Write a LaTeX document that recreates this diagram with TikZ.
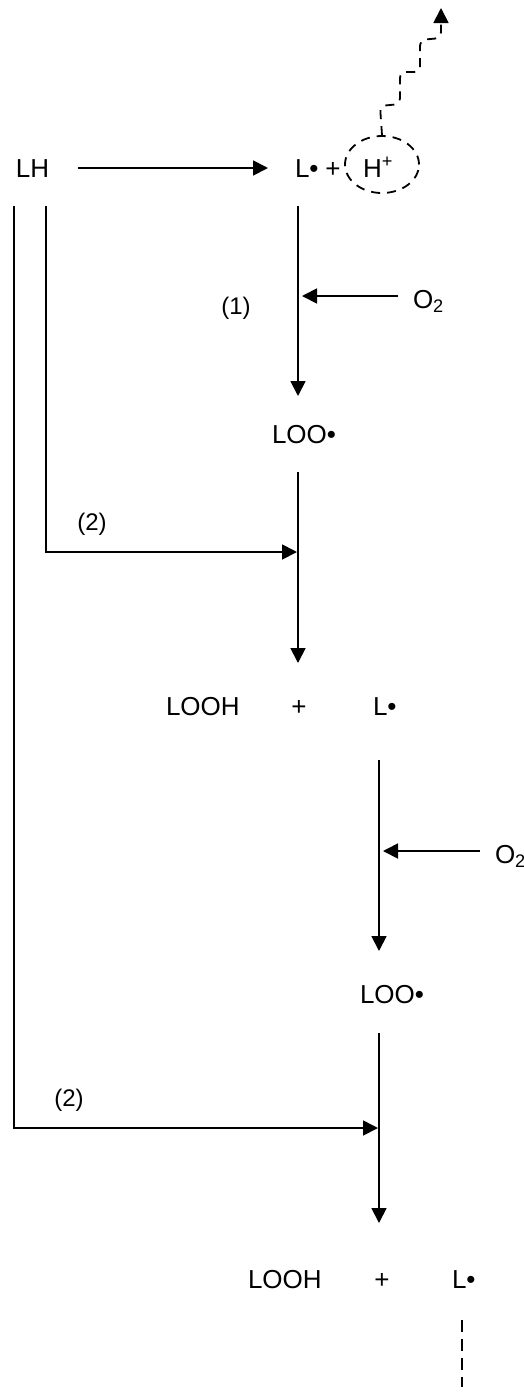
\documentclass[tikz,border=0pt]{standalone}
\usepackage{fontspec}
\setmainfont{Liberation Sans}
\usetikzlibrary{arrows.meta,shapes.geometric}
\begin{document}
\begin{tikzpicture}[x=1pt,y=-1pt,
  txt/.style={inner sep=0pt,outer sep=0pt,font=\fontsize{26}{30}\selectfont},
  lbl/.style={inner sep=0pt,outer sep=0pt,font=\fontsize{24}{28}\selectfont},
  ln/.style={line width=1.8pt},
  arr/.style={line width=1.8pt,-{Triangle[length=15pt,width=15pt]}},
  dsh/.style={line width=1.8pt,dash pattern=on 9pt off 7pt}]
\useasboundingbox (0,0) rectangle (524,1393);
% top row
\node[txt,anchor=base west] (LH) at (16,177) {LH};
\node[txt,anchor=base west] (Ldot1) at (295,177) {L•};
\node[txt,anchor=base] (plus0) at (333,177) {+};
\node[txt,anchor=base west] (Hp) at (363,177) {H\textsuperscript{+}};
\node[draw,dsh,ellipse,minimum width=74pt,minimum height=57pt,inner sep=0pt] (ell) at (382,164.5) {};
\coordinate (up) at (441,8);
\draw[dsh,rounded corners=6pt,-{Triangle[length=15pt,width=15pt]}]
  (ell.north) -- (380,106) -- (400,104) -- (400,72) -- (420,72) -- (420,40) -- (441,38) -- (up);
\draw[arr,shorten <=29pt,shorten >=27pt] (LH.base east |- 0,168) -- (Ldot1.base west |- 0,168);
% step (1)
\coordinate (a1) at (298,206);
\coordinate (a2) at (298,396);
\draw[arr] (a1) -- (a2);
\node[txt,anchor=base west] (O2a) at (413,308) {O\textsubscript{2}};
\coordinate (o2a) at (302,296);
\draw[arr] (O2a.west |- o2a) ++(-15,0) coordinate (o2as) -- (o2a);
\node[lbl] (n1) at (236,308) {(1)};
\node[txt,anchor=base west] (LOO1) at (272,443) {LOO•};
% step (2) first
\coordinate (b1) at (298,472);
\coordinate (b2) at (298,663);
\draw[arr] (b1) -- (b2);
\coordinate (v2) at (46,206);
\coordinate (j1) at (297,552);
\draw[arr] (v2) |- (j1);
\node[lbl] (n2a) at (92,524) {(2)};
% first product row
\node[txt,anchor=base west] (LOOH1) at (166,715) {LOOH};
\node[txt,anchor=base] (plus1) at (299,715) {+};
\node[txt,anchor=base west] (Ldot2) at (373,715) {L•};
% second oxygen step
\coordinate (c1) at (379,760);
\coordinate (c2) at (379,951);
\draw[arr] (c1) -- (c2);
\node[txt,anchor=base west] (O2b) at (495,863) {O\textsubscript{2}};
\coordinate (o2b) at (383,851);
\draw[arr] (O2b.west |- o2b) ++(-15,0) -- (o2b);
\node[txt,anchor=base west] (LOO2) at (360,1003) {LOO•};
% second (2) step
\coordinate (d1) at (379,1033);
\coordinate (d2) at (379,1223);
\draw[arr] (d1) -- (d2);
\coordinate (v1) at (14,206);
\coordinate (j2) at (378,1128);
\draw[arr] (v1) |- (j2);
\node[lbl] (n2b) at (69,1100) {(2)};
% second product row
\node[txt,anchor=base west] (LOOH2) at (248,1288) {LOOH};
\node[txt,anchor=base] (plus2) at (382,1288) {+};
\node[txt,anchor=base west] (Ldot3) at (452,1288) {L•};
\coordinate (e1) at (462,1320);
\coordinate (e2) at (462,1387);
\draw[line width=1.8pt,dash pattern=on 12pt off 7pt] (e1) -- (e2);
\end{tikzpicture}
\end{document}
